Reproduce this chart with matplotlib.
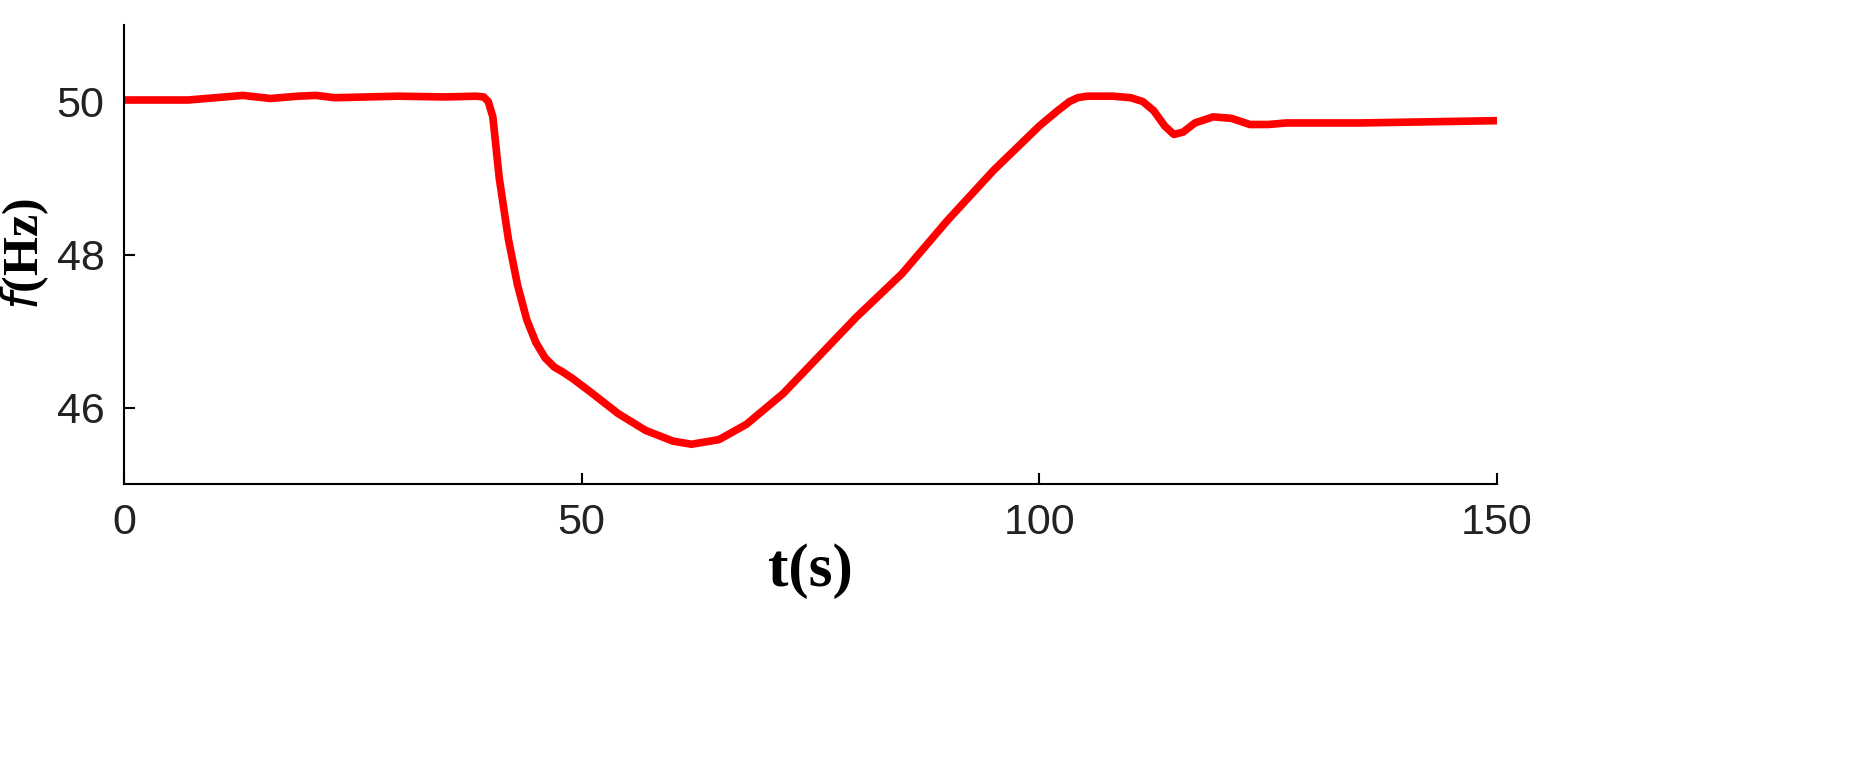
import matplotlib
matplotlib.use("Agg")
import matplotlib.pyplot as plt

t = [0, 7, 10, 13, 16, 19, 21, 23, 30, 35, 38.5, 39.3, 39.8, 40.3, 41, 42, 43, 44, 45, 46, 47, 48, 49, 51, 54, 57, 60, 62, 65, 68, 72, 76, 80, 85, 90, 95, 100, 102, 103.3, 104.2, 105.2, 108, 110, 111.3, 112.5, 113.7, 114.7, 115.7, 117, 119, 121, 123, 125, 127, 135, 150]
f = [50.02, 50.02, 50.05, 50.08, 50.04, 50.07, 50.08, 50.05, 50.07, 50.06, 50.07, 50.06, 50.0, 49.8, 49.0, 48.2, 47.6, 47.15, 46.85, 46.65, 46.53, 46.46, 46.38, 46.2, 45.92, 45.7, 45.56, 45.52, 45.58, 45.78, 46.18, 46.68, 47.18, 47.75, 48.45, 49.1, 49.68, 49.88, 50.0, 50.05, 50.07, 50.07, 50.05, 50.0, 49.88, 49.68, 49.57, 49.6, 49.72, 49.8, 49.78, 49.7, 49.7, 49.72, 49.72, 49.75]
xticks = [0, 50, 100, 150]
yticks = [46, 48, 50]

fig = plt.figure(figsize=(18.61, 7.59), dpi=100)
ax = fig.add_axes([0.0666, 0.3623, 0.7378, 0.6047])
ax.plot(t, f, color="#ff0000", lw=5.5, solid_joinstyle="round", solid_capstyle="butt")
ax.set_xlim(0, 150)
ax.set_ylim(45, 51)
ax.set_xticks(xticks)
ax.set_yticks(yticks)
for s in ["top", "right"]:
    ax.spines[s].set_visible(False)
for s in ["left", "bottom"]:
    ax.spines[s].set_linewidth(1.5)
ax.tick_params(direction="in", length=8, width=1.5, labelsize=31, pad=14)
for lab in ax.get_xticklabels() + ax.get_yticklabels():
    lab.set_fontfamily("Liberation Sans")
    lab.set_color("#222222")
ax.set_xlabel("t(s)", fontfamily="Liberation Serif", fontweight="bold", fontsize=44, labelpad=0)
ax.set_ylabel(r"$\mathit{f}$" + "(Hz)", fontfamily="Liberation Serif", fontweight="bold", fontsize=36, labelpad=4)
fig.savefig("out.png", dpi=100)
